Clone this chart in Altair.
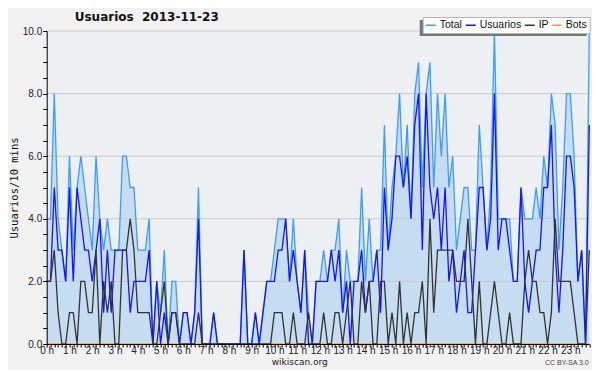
import altair as alt
import pandas as pd

# 10-minute slots over the day (0 .. 143)
slots = list(range(144))

usuarios = [2, 2, 5, 3, 3, 2, 5, 2, 5, 4, 3, 3, 2, 3, 4, 1, 3, 1, 3, 3,
            3, 3, 1, 2, 2, 2, 2, 3, 0, 2, 0, 1, 0, 1, 1, 0, 1, 1, 0, 1,
            4, 0, 0, 0, 1, 0, 0, 0, 0, 0, 0, 0, 3, 0, 0, 1, 0, 1, 2, 2,
            2, 3, 3, 4, 2, 3, 2, 1, 3, 0, 0, 2, 2, 2, 2, 3, 2, 3, 1, 2,
            0, 2, 2, 3, 1, 2, 2, 3, 1, 5, 3, 4, 6, 6, 5, 6, 4, 7, 8, 3,
            8, 5, 4, 5, 3, 5, 2, 3, 1, 2, 3, 1, 1, 3, 5, 5, 3, 4, 8, 3,
            4, 4, 3, 2, 2, 5, 2, 1, 2, 3, 3, 5, 5, 7, 3, 1, 3, 6, 6, 5,
            2, 3, 0, 7]

ip = [2, 2, 3, 1, 0, 0, 1, 1, 0, 2, 2, 1, 1, 3, 0, 2, 1, 2, 0, 0,
      3, 3, 4, 3, 1, 1, 1, 1, 0, 0, 1, 2, 0, 1, 1, 0, 0, 0, 0, 0,
      1, 0, 0, 0, 0, 0, 0, 0, 0, 0, 0, 0, 0, 0, 0, 0, 0, 0, 0, 0,
      1, 1, 1, 0, 0, 1, 0, 0, 0, 1, 0, 0, 0, 1, 0, 0, 1, 1, 0, 1,
      2, 0, 0, 2, 1, 2, 0, 0, 2, 2, 0, 1, 0, 2, 0, 1, 0, 1, 1, 2,
      0, 4, 1, 3, 3, 3, 3, 3, 2, 2, 2, 4, 2, 0, 2, 0, 0, 1, 2, 1,
      0, 0, 1, 0, 0, 0, 2, 3, 2, 2, 1, 1, 0, 1, 4, 2, 2, 2, 2, 1,
      0, 0, 0, 3]

total = [4, 4, 8, 4, 3, 2, 6, 3, 5, 6, 5, 4, 3, 6, 4, 3, 4, 3, 3, 3,
         6, 6, 5, 5, 3, 3, 3, 4, 0, 2, 1, 3, 0, 2, 2, 0, 1, 1, 0, 1,
         5, 0, 0, 0, 1, 0, 0, 0, 0, 0, 0, 0, 3, 0, 0, 1, 0, 1, 2, 2,
         3, 4, 4, 4, 2, 4, 2, 1, 3, 1, 0, 2, 2, 3, 2, 3, 3, 4, 1, 3,
         2, 2, 2, 5, 2, 4, 2, 3, 3, 7, 3, 5, 6, 8, 5, 7, 4, 8, 9, 5,
         8, 9, 5, 8, 6, 8, 5, 6, 3, 4, 5, 5, 3, 3, 7, 5, 3, 5, 10, 4,
         4, 4, 4, 2, 2, 5, 4, 4, 4, 5, 4, 6, 5, 8, 7, 3, 5, 8, 8, 6,
         2, 3, 0, 10]

bots = [0] * 144

series_names = ["Total", "Usuarios", "IP", "Bots"]
series_colors = ["#3d9cff", "#1414ff", "#333333", "#ffa31a"]

grid_values = [2, 4, 6, 8, 10]
y_ticks = [k * 0.5 for k in range(21)]

rows = []
for name, vals in zip(series_names, [total, usuarios, ip, bots]):
    for s, v in zip(slots, vals):
        rows.append({"slot": s, "serie": name, "v": v})
df = pd.DataFrame(rows)

FONT = "DejaVu Sans"
LFONT = "Liberation Sans"

W, H = 542.6, 313

xscale = alt.Scale(domain=[0, 143], nice=False, zero=False)
yscale = alt.Scale(domain=[0, 10], nice=False, zero=True)

x_axis = alt.Axis(
    values=slots,
    labelExpr="datum.value % 6 === 0 ? (datum.value / 6) + ' h' : ''",
    labelOverlap=False, labelFlush=False, grid=False, title=None,
    tickSize=3,
    tickColor="black", domainColor="black", labelColor="#222",
    labelFont=LFONT, labelFontSize=10, labelPadding=-2, zindex=1,
)
y_axis = alt.Axis(
    values=y_ticks,
    labelExpr="datum.value % 2 === 0 ? format(datum.value, '.1f') : ''",
    labelOverlap=False, labelFlush=False, grid=False,
    title="Usuarios/10 mins", titleFont="DejaVu Sans Mono", titleFontSize=10.5,
    titleFontWeight="normal", titleColor="#111", titleX=-32, titleY=H / 2,
    titleAngle=270, titleAlign="center", titleBaseline="middle",
    tickSize=4, tickColor="black", domainColor="black", labelColor="#222",
    labelFont=LFONT, labelFontSize=10, labelPadding=1, zindex=1,
)

X = alt.X("slot:Q", scale=xscale, axis=x_axis)
Y = alt.Y("v:Q", scale=yscale, axis=y_axis)

color = alt.Color(
    "serie:N",
    scale=alt.Scale(domain=series_names, range=series_colors),
    legend=alt.Legend(
        orient="none", legendX=376, legendY=-14, direction="horizontal",
        title=None, symbolType="stroke", symbolSize=100, symbolStrokeWidth=1.5,
        labelFont=LFONT, labelFontSize=10.5, labelColor="#111",
        fillColor="white", strokeColor="#b5b5b5", padding=2, columnPadding=0,
        labelOffset=3, symbolOffset=0, rowPadding=0,
    ),
)

base = alt.Chart(df)

area = base.transform_filter(alt.datum.serie == "Total").mark_area(
    color="#c6dcf0", opacity=1
).encode(x=X, y=Y)

grid = alt.Chart(pd.DataFrame({"g": grid_values})).mark_rule(
    color="#c9c9c9", strokeWidth=1
).encode(y=alt.Y("g:Q", scale=yscale, axis=y_axis))


def line_layer(name):
    return base.transform_filter(alt.datum.serie == name).mark_line(
        strokeWidth=1.3
    ).encode(x=X, y=Y, color=color)


lines = [line_layer("Bots"), line_layer("Total"), line_layer("Usuarios"), line_layer("IP")]

one = pd.DataFrame({
    "t": ["Usuarios \u00a02013-11-23"],
    "w": ["wikiscan.org"],
    "c": ["CC BY-SA 3.0"],
})

title_txt = alt.Chart(one).mark_text(
    font=FONT, fontSize=12, fontWeight="bold", color="#111",
    align="left", baseline="middle"
).encode(x=alt.value(28), y=alt.value(-14), text="t:N")

foot = alt.Chart(one).mark_text(
    font=FONT, fontSize=9, color="#222", baseline="middle"
).encode(x=alt.value(253), y=alt.value(330.5), text="w:N")

cc = alt.Chart(one).mark_text(
    font=LFONT, fontSize=7, color="#444", baseline="middle", align="right"
).encode(x=alt.value(542), y=alt.value(332), text="c:N")

shadow = alt.Chart(one).mark_rect(color="#777777").encode(
    x=alt.value(373), x2=alt.value(540), y=alt.value(-11), y2=alt.value(5)
)

chart = alt.layer(area, grid, *lines, shadow, title_txt, foot, cc).properties(
    width=W, height=H,
    autosize=alt.AutoSizeParams(type="none"),
    padding={"left": 38.7, "top": 23, "right": 2.7, "bottom": 26},
).configure(background="#f1f1f1").configure_view(
    fill="#edf0f3", stroke=None
)

chart.save("out.html", embed_options={"renderer": "svg", "actions": False})
